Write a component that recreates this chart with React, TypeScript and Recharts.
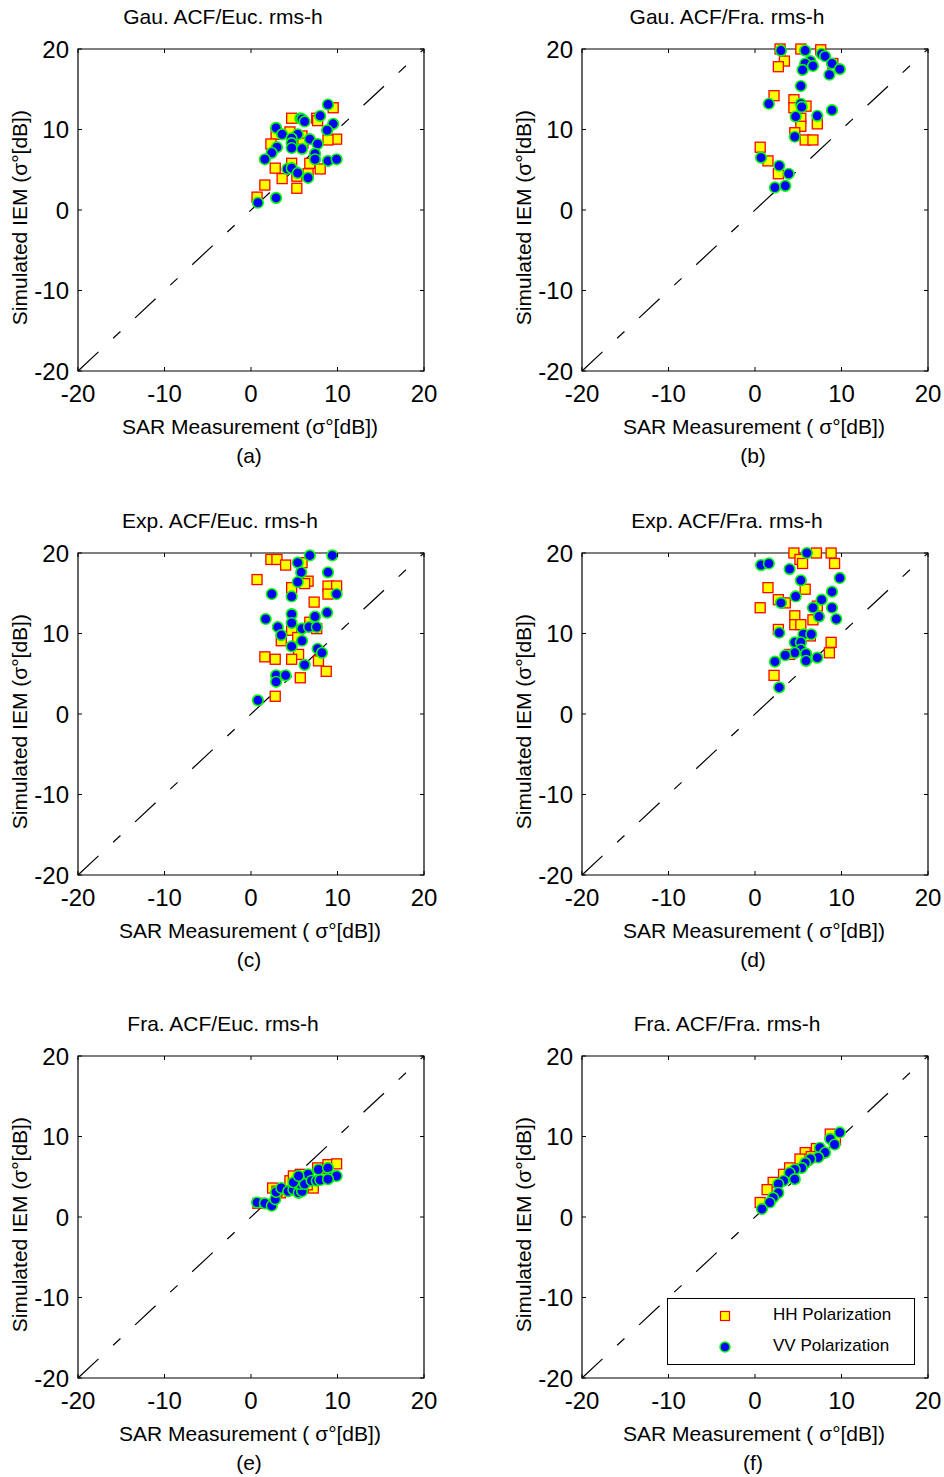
import React from "react";
import {
  ScatterChart, Scatter, XAxis, YAxis, ReferenceLine, ReferenceArea, Legend,
} from "recharts";

const gauEucHH = [[9.5,12.7],[4.7,11.4],[7.6,11.4],[7.7,11.1],[2.9,9.4],[4.5,9.7],[5.9,9.2],[9.9,8.8],[8.9,8.7],[2.3,8.2],[6.0,8.3],[2.8,5.2],[4.7,5.8],[6.8,5.8],[8.0,5.1],[3.6,3.9],[6.6,4.5],[1.6,3.1],[5.3,2.7],[0.7,1.6],[5.3,4.2]];
const gauEucVV = [[8.9,13.1],[8.0,11.7],[5.7,11.4],[5.9,11.3],[6.2,11.0],[9.5,10.7],[8.8,9.9],[2.9,10.2],[3.6,9.4],[5.4,9.4],[4.7,8.9],[4.7,8.3],[4.7,7.7],[6.8,8.8],[7.7,8.2],[5.9,7.6],[3.0,7.8],[2.4,7.1],[1.6,6.3],[7.4,7.0],[7.4,6.3],[8.9,6.1],[9.9,6.3],[4.2,5.1],[4.7,5.2],[5.4,4.6],[6.6,4.0],[2.9,1.5],[0.8,0.9]];
const gauFraHH = [[2.9,20],[5.3,20],[7.6,19.9],[3.4,18.5],[2.7,17.8],[9.0,18.2],[2.2,14.2],[4.5,13.7],[4.5,12.7],[5.9,12.9],[5.3,11.4],[5.3,10.4],[7.2,10.7],[4.6,9.6],[5.8,8.7],[6.7,8.7],[0.6,7.8],[1.5,6.1],[2.7,4.5]];
const gauFraVV = [[3.0,19.8],[5.8,19.8],[7.7,19.4],[8.1,19.1],[6.4,18.5],[5.8,18.2],[6.7,17.9],[8.9,18.2],[9.8,17.5],[5.5,17.4],[8.6,16.8],[5.3,15.4],[1.6,13.2],[5.3,13.2],[5.4,12.8],[4.7,11.6],[7.2,11.7],[8.9,12.4],[4.6,9.1],[0.7,6.5],[2.8,5.5],[3.9,4.5],[2.3,2.8],[3.5,3.0]];
const expEucHH = [[2.3,19.2],[3.0,19.2],[4.0,18.5],[5.9,18.8],[0.7,16.7],[6.6,16.5],[6.2,16.2],[8.9,15.9],[9.9,15.9],[8.9,14.9],[4.7,15.7],[7.3,13.9],[6.8,11.4],[7.6,10.6],[4.7,10.4],[3.5,9.1],[5.4,9.5],[5.5,7.4],[1.6,7.1],[2.8,6.8],[4.7,6.8],[7.8,6.6],[8.7,5.3],[5.7,4.5],[2.8,2.2]];
const expEucVV = [[6.8,19.7],[9.4,19.7],[5.4,18.8],[5.8,17.6],[8.9,17.6],[5.4,16.4],[2.4,14.9],[4.7,14.6],[9.9,14.9],[1.7,11.8],[4.7,12.4],[4.7,11.3],[7.4,12.1],[8.8,12.6],[3.1,10.8],[5.9,10.6],[6.7,10.8],[7.6,10.8],[3.5,9.8],[5.9,9.1],[4.7,8.4],[7.7,8.1],[8.2,7.6],[6.2,6.1],[2.9,4.8],[2.9,4.0],[4.0,4.8],[0.8,1.7]];
const expFraHH = [[4.5,20],[7.1,20],[8.8,20],[5.2,19.2],[5.5,18.7],[9.2,18.7],[1.5,15.7],[5.8,15.5],[0.6,13.2],[2.7,14.2],[3.5,13.8],[4.6,12.2],[4.6,11.1],[5.3,11.1],[6.7,11.7],[7.2,13.4],[2.7,10.5],[6.4,9.7],[4.0,7.4],[8.8,8.9],[8.6,7.6],[2.2,4.8]];
const expFraVV = [[6.0,20],[0.7,18.5],[1.6,18.7],[4.0,18.0],[5.3,16.6],[9.8,16.9],[4.7,14.6],[8.9,15.2],[7.7,14.2],[3.0,13.8],[6.7,13.2],[7.4,12.1],[8.9,13.2],[9.4,11.8],[2.8,10.1],[5.6,9.9],[6.5,9.9],[4.6,8.9],[5.3,8.9],[5.3,8.0],[4.6,7.6],[5.9,7.5],[3.5,7.3],[7.2,7.0],[5.9,6.6],[2.3,6.5],[2.8,3.3]];
const fraEucHH = [[7.7,6.1],[8.9,6.5],[9.9,6.6],[5.7,5.3],[4.5,4.5],[2.5,3.6],[3.4,3.0],[0.8,1.7],[7.2,3.6],[4.9,5.1],[8.2,4.8],[6.5,4.0],[3.0,3.2]];
const fraEucVV = [[0.7,1.8],[1.6,1.7],[2.4,1.4],[2.8,2.2],[2.9,3.1],[3.5,3.6],[4.3,3.2],[4.9,3.4],[5.5,3.0],[5.9,3.2],[5.7,4.1],[4.9,4.3],[6.2,4.1],[6.6,5.3],[5.5,5.1],[7.0,4.5],[7.6,4.5],[8.0,4.6],[7.8,5.9],[8.9,6.1],[9.1,4.9],[9.9,5.1],[8.9,4.7]];
const fraFraHH = [[8.7,10.3],[7.1,8.5],[5.8,8.0],[5.2,7.2],[3.3,5.3],[2.1,4.3],[1.4,3.4],[0.6,1.8],[7.5,7.9],[4.0,6.1],[9.3,9.6],[6.5,7.5]];
const fraFraVV = [[9.8,10.5],[8.7,9.7],[9.2,9.0],[7.5,8.6],[8.1,8.0],[7.3,7.4],[6.4,7.2],[5.8,6.7],[5.4,6.1],[4.6,5.9],[4.0,5.5],[4.6,4.7],[3.3,4.5],[2.7,4.1],[2.7,3.0],[2.1,2.4],[1.7,1.8],[0.8,1.0]];

const TICKS = [-20, -10, 0, 10, 20];
const FONT = "'Liberation Sans', Arial, Helvetica, sans-serif";

// plot box inside each 470x480 panel
const W = 470, H = 480;
const LEFT = 78, RIGHT = 424, TOP = 49, BOTTOM = 371;
const Y_AXIS_W = 40, X_AXIS_H = 30;

const toPts = (arr: number[][]) => arr.map(([x, y]) => ({ x, y }));

const XTick = (p: any) => (
  <g>
    <line x1={p.x} x2={p.x} y1={BOTTOM} y2={BOTTOM - 4} stroke="#000" />
    <line x1={p.x} x2={p.x} y1={TOP} y2={TOP + 4} stroke="#000" />
    <text x={p.x} y={BOTTOM + 22} textAnchor="middle" dominantBaseline="central"
      fontSize={24} fontFamily={FONT} fill="#000">{p.payload.value}</text>
  </g>
);

const YTick = (p: any) => (
  <g>
    <line x1={LEFT} x2={LEFT + 4} y1={p.y} y2={p.y} stroke="#000" />
    <line x1={RIGHT} x2={RIGHT - 4} y1={p.y} y2={p.y} stroke="#000" />
    <text x={LEFT - 9} y={p.y} textAnchor="end" dominantBaseline="central"
      fontSize={24} fontFamily={FONT} fill="#000">{p.payload.value}</text>
  </g>
);

const hhShape = (p: any) => (
  <rect x={p.cx - 5} y={p.cy - 5} width={10} height={10} fill="#FFFF00" stroke="#FF0000" strokeWidth={1.3} />
);
const vvShape = (p: any) => (
  <circle cx={p.cx} cy={p.cy} r={5.3} fill="#0000FF" stroke="#00FF00" strokeWidth={1.6} />
);

const legendBox = () => (
  <div style={{ width: 248, height: 67, border: "1.3px solid #000", boxSizing: "border-box", background: "#fff", fontFamily: FONT, fontSize: 17, position: "relative" }}>
    <svg width={20} height={60} style={{ position: "absolute", left: 47, top: 4 }}>
      <rect x={5.5} y={8.5} width={9} height={9} fill="#FFFF00" stroke="#FF0000" strokeWidth={1.2} />
      <circle cx={10} cy={44} r={5} fill="#0000FF" stroke="#00FF00" strokeWidth={1.5} />
    </svg>
    <div style={{ position: "absolute", left: 105, top: 6, lineHeight: "20px" }}>HH Polarization</div>
    <div style={{ position: "absolute", left: 105, top: 37, lineHeight: "20px" }}>VV Polarization</div>
  </div>
);

function Txt({ x, y, size = 21, rotate = false, children }: any) {
  return (
    <div style={{
      position: "absolute", left: x - 200, top: y - size * 0.6, width: 400, textAlign: "center",
      fontSize: size, lineHeight: `${size * 1.2}px`, whiteSpace: "nowrap", fontFamily: FONT,
      transform: rotate ? "rotate(-90deg)" : undefined, color: "#000",
    }}>{children}</div>
  );
}

function Panel({ left, top, title, titleX, xLabel, caption, hh, vv, legend }: any) {
  return (
    <div style={{ position: "absolute", left, top, width: W, height: H }}>
      <ScatterChart width={W} height={H}
        margin={{ top: TOP, left: LEFT - Y_AXIS_W, right: W - RIGHT, bottom: H - BOTTOM - X_AXIS_H }}>
        <XAxis type="number" dataKey="x" domain={[-20, 20]} ticks={TICKS} interval={0}
          height={X_AXIS_H} axisLine={false} tickLine={false} tick={<XTick />} />
        <YAxis type="number" dataKey="y" domain={[-20, 20]} ticks={TICKS} interval={0}
          width={Y_AXIS_W} axisLine={false} tickLine={false} tick={<YTick />} />
        <ReferenceArea x1={-20} x2={20} y1={-20} y2={20} fill="none" fillOpacity={0}
          stroke="#000" strokeWidth={1.2} />
        <Scatter name="HH Polarization" data={toPts(hh)} shape={hhShape} isAnimationActive={false} />
        <Scatter name="VV Polarization" data={toPts(vv)} shape={vvShape} isAnimationActive={false} />
        <ReferenceLine segment={[{ x: -20, y: -20 }, { x: 20, y: 20 }]} stroke="#000"
          strokeWidth={1.2} strokeDasharray="28 20 10 20" />
        {legend && (
          <Legend layout="vertical" align="center" verticalAlign="middle" content={legendBox}
            wrapperStyle={{ position: "absolute", left: 163, top: 291, width: 248, height: 67 }} />
        )}
      </ScatterChart>
      <Txt x={titleX} y={17}>{title}</Txt>
      <Txt x={250} y={427}>{xLabel}</Txt>
      <Txt x={249} y={456}>{caption}</Txt>
      <Txt x={20} y={218} rotate>Simulated IEM (σ°[dB])</Txt>
    </div>
  );
}

export default function App() {
  return (
    <div style={{ position: "absolute", left: 0, top: 0, width: 944, height: 1477, background: "#fff" }}>
      <Panel left={0} top={0} title="Gau. ACF/Euc. rms-h" titleX={223} xLabel="SAR Measurement (σ°[dB])" caption="(a)" hh={gauEucHH} vv={gauEucVV} />
      <Panel left={504} top={0} title="Gau. ACF/Fra. rms-h" titleX={223} xLabel="SAR Measurement ( σ°[dB])" caption="(b)" hh={gauFraHH} vv={gauFraVV} />
      <Panel left={0} top={504} title="Exp. ACF/Euc. rms-h" titleX={220} xLabel="SAR Measurement ( σ°[dB])" caption="(c)" hh={expEucHH} vv={expEucVV} />
      <Panel left={504} top={504} title="Exp. ACF/Fra. rms-h" titleX={223} xLabel="SAR Measurement ( σ°[dB])" caption="(d)" hh={expFraHH} vv={expFraVV} />
      <Panel left={0} top={1007} title="Fra. ACF/Euc. rms-h" titleX={223} xLabel="SAR Measurement ( σ°[dB])" caption="(e)" hh={fraEucHH} vv={fraEucVV} />
      <Panel left={504} top={1007} title="Fra. ACF/Fra. rms-h" titleX={223} xLabel="SAR Measurement ( σ°[dB])" caption="(f)" hh={fraFraHH} vv={fraFraVV} legend />
    </div>
  );
}
